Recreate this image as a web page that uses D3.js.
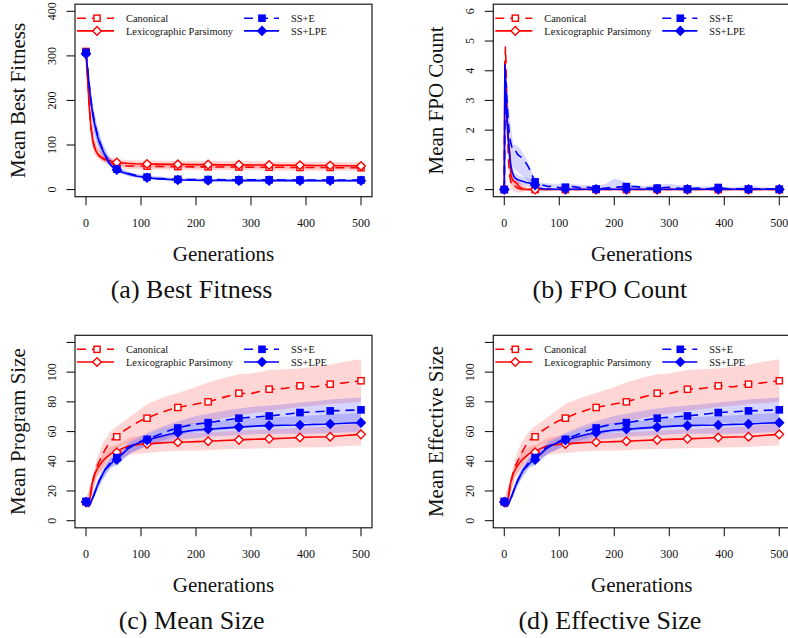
<!DOCTYPE html>
<html><head><meta charset="utf-8">
<script src="https://cdn.jsdelivr.net/npm/d3@7"></script>
<style>
body{margin:0;background:#fff}
svg{display:block}
text{font-family:"Liberation Serif","Times New Roman",serif;fill:#111}
</style>
</head><body>
<svg id="fig" width="788" height="638"></svg>
<script>
// ---------- shared ----------
const seriesNames = ["Canonical", "Lexicographic Parsimony", "SS+E", "SS+LPE"];
const markerGens = [0, 56, 111, 167, 222, 278, 333, 389, 444, 500];
const genTicks = [0, 100, 200, 300, 400, 500];

// ---------- (a) best fitness ----------
const fitGens = [0,3,6,9,12,15,18,21,25,30,35,40,45,50,56,65,75,90,111,130,150,167,195,222,250,278,305,333,360,389,415,444,470,500];
const fitCanonical = [310,250,185,140,114,97,87,80,74,70,66,63,60,57,54,53.5,53,53,52.5,52,51.5,51.5,51,51,50.5,50.5,50,50,50,49.5,49.5,49.5,49,49];
const fitLex = [305,245,182,138,113,96,87,80,75,71,68,66,64,62,60.8,60,59,58,57.5,57,56.5,56.5,56,56,55.5,55.5,55,55,54.5,54.5,54,54,53.5,53];
const fitSSE = [308,272,235,200,175,155,138,123,107,91,78,66,57,50,46,41,37,32,28,25.5,24,23,22.5,22.5,22,22,22,22,21.5,21.5,21.5,21.5,21.5,21.5];
const fitSSLPE = [305,268,230,196,171,151,134,119,104,89,76,64,55,48.5,44.5,39.5,35.5,30.5,26.5,24,22.5,21.5,21,20.5,20.5,20,20,20,20,20,19.8,19.8,19.7,19.7];
const fitBandGens = [0,5,10,15,20,30,40,56,80,111,167,222,278,333,389,444,500];
const fitCanonicalLo = [300,190,105,82,72,62,56,48,46,45,44.5,44,43.5,43,42.5,42.5,42];
const fitCanonicalHi = [320,250,160,115,95,80,73,62,60,59,58.5,58,57.5,57,56.5,56.5,56];
const fitLexLo = [298,188,108,84,74,64,59,53,50,49,48.5,48.5,48,47.5,47,47,46.5];
const fitLexHi = [318,248,163,117,98,82,75,68,66,65,64.5,64,64,63,62.5,62,61.5];
const fitSSELo = [298,225,170,130,105,78,57,40,30,25,20,19.5,19,19,18.5,18.5,18];
const fitSSEHi = [318,265,215,175,145,105,78,52,38,32,26,25,25,24.5,24.5,24,24];
const fitSSLPELo = [295,220,165,125,100,75,55,39,29,23.5,19,18,17.5,17.5,17,17,17];
const fitSSLPEHi = [315,260,210,170,140,100,75,51,37,29.5,25,24,23.5,23,23,23,22.5];
const fitTicks = [0,100,200,300,400];
const fitTickLabels = ["0","100","200","300","400"];

// ---------- (b) FPO count ----------
const fpoGens = [0,1,2,3,4,5,6,7,8,10,12,14,16,18,20,23,26,30,35,40,45,50,56,62,70,80,90,100,111,125,140,155,167,185,200,222,240,260,278,300,320,333,350,370,389,410,430,444,470,500];
const fpoCanonical = [0,3.6,4.8,4.3,3.4,2.6,1.9,1.3,0.9,0.45,0.25,0.15,0.1,0.08,0.12,0.06,0.04,0.02,0.01,0,0,0,0,0,0,0,0,0,0,0,0,0,0,0,0,0,0,0,0,0,0,0,0,0,0,0,0,0,0,0];
const fpoLex = [0,4.3,3.8,3.3,2.8,2.4,2.1,1.8,1.6,1.2,0.5,0.38,0.3,0.27,0.25,0.2,0.12,0.05,0.02,0,0,0,0,0,0,0,0,0,0,0,0,0,0,0,0,0,0,0,0,0,0,0,0,0,0,0,0,0,0,0];
const fpoSSE = [0,2.4,3.4,3.63,3.35,3.0,2.7,2.4,2.1,1.75,1.55,1.42,1.44,1.4,1.32,1.22,1.15,1.1,1.0,0.88,0.72,0.5,0.26,0.2,0.15,0.1,0.12,0.06,0.08,0.1,0.06,0.08,0.02,0.05,0.08,0.1,0.1,0.05,0.05,0.08,0.04,0.02,0.05,0.03,0.07,0.02,0.03,0.02,0.03,0.01];
const fpoSSLPE = [0,4.2,3.6,3.1,2.7,2.4,2.0,1.7,1.5,1.1,0.8,0.62,0.5,0.43,0.38,0.35,0.32,0.3,0.27,0.24,0.22,0.2,0.15,0.05,0.03,0.02,0.01,0.01,0.01,0.01,0.01,0.01,0.01,0.01,0.01,0.01,0.01,0.01,0.01,0.01,0.01,0.01,0.01,0.01,0.01,0.01,0.01,0.01,0.01,0.01];
const fpoBandGens = [0,1,2,3,5,8,12,16,20,25,30,40,50,56,62,70,90,111,140,167,185,200,215,230,250,278,300,333,389,420,444,470,500];
const fpoCanonicalLo = [0,3.2,4.5,4.0,2.2,0.5,0,-0.05,-0.1,-0.1,-0.1,-0.05,-0.02,0,0,0,0,0,0,0,0,0,0,0,0,0,0,0,0,0,0,0,0];
const fpoCanonicalHi = [0,4.0,5.0,4.6,3.0,1.3,0.55,0.35,0.3,0.3,0.22,0.1,0.05,0.02,0,0,0,0,0,0,0,0,0,0,0,0,0,0,0,0,0,0,0];
const fpoLexLo = [0,4.1,3.6,3.0,1.9,1.2,0.2,0.1,0.05,0,-0.05,-0.05,-0.02,0,0,0,0,0,0,0,0,0,0,0,0,0,0,0,0,0,0,0,0];
const fpoLexHi = [0,4.5,4.0,3.5,2.8,2.0,0.9,0.5,0.42,0.32,0.15,0.05,0.02,0,0,0,0,0,0,0,0,0,0,0,0,0,0,0,0,0,0,0,0];
const fpoSSELo = [0,1.6,2.8,3.1,2.5,1.4,0.95,0.75,0.65,0.58,0.5,0.36,0.12,0.04,-0.02,-0.03,-0.03,-0.03,-0.03,-0.03,-0.03,-0.03,-0.03,-0.03,-0.03,-0.03,-0.03,-0.03,-0.03,-0.03,-0.03,-0.03,-0.03];
const fpoSSEHi = [0,3.3,4.1,4.2,3.6,2.8,2.1,1.55,1.5,1.45,1.35,1.05,0.6,0.38,0.27,0.22,0.2,0.2,0.16,0.12,0.2,0.37,0.3,0.16,0.12,0.15,0.2,0.1,0.1,0.08,0.15,0.08,0.05];
const fpoSSLPELo = [0,4.0,3.3,2.8,2.1,1.1,0.5,0.3,0.22,0.2,0.17,0.12,0.08,0.05,0,-0.01,-0.01,-0.01,-0.01,-0.01,-0.01,-0.01,-0.01,-0.01,-0.01,-0.01,-0.01,-0.01,-0.01,-0.01,-0.01,-0.01,-0.01];
const fpoSSLPEHi = [0,4.4,3.9,3.4,2.9,1.9,1.0,0.7,0.55,0.5,0.45,0.4,0.35,0.25,0.1,0.05,0.03,0.03,0.03,0.03,0.03,0.03,0.03,0.03,0.03,0.03,0.03,0.03,0.03,0.03,0.03,0.03,0.03];
const fpoTicks = [0,1,2,3,4,5,6];
const fpoTickLabels = ["0","1","2","3","4","5","6"];

// ---------- (c) mean program size ----------
const sizeGens = [0,2,4,6,8,10,13,16,20,25,30,35,40,45,50,56,65,75,90,100,111,130,150,167,185,200,222,250,278,300,315,333,360,389,400,415,444,470,500];
const sizeCanonical = [12.7,11,10,12,16,21,27,32,36.5,40.5,44.5,48,51,53.5,55.5,56.5,59.5,62,65.5,67.5,69,72,74.5,76.2,77.5,78.5,80,83,85.8,85.5,87,88.5,89,90.8,90.8,90,91.9,92.8,94.2];
const sizeLex = [12.5,10.5,9.5,12,17,22.9,28,31.5,34.5,37.5,40,42,43.5,45,45.8,46,48.5,50,51,51.5,51.7,52.2,52.6,52.8,53,53.2,53.5,54,54.4,54.7,54.9,55.1,55.5,56,56.2,56.3,56.5,57.3,58.1];
const sizeSSE = [13,11,10,10.2,11.5,13.5,16,19,23,27.5,31,34.5,37,39.3,41,42.5,46,49,52,53.5,54.7,57.5,60.5,62.4,64,65,66,67.5,69,69.6,70,70.5,71.5,72.8,73,73.3,73.9,74.2,74.6];
const sizeSSLPE = [12.5,10.5,9.7,10,11.5,13.5,16,19,23,27.4,31,34.5,36.2,38.2,40,41,44.5,48,51.5,53,54.2,56.2,58,59.2,60.3,61,61.5,62.3,63,63.5,63.8,64,64.2,64.4,64.6,64.8,65.1,65.6,66];
const sizeBandGens = [0,10,20,30,45,56,80,111,140,167,200,222,250,278,300,333,360,389,420,444,470,500];
const sizeCanonicalLo = [11.5,16,29,35,45,48.5,53,58,61,63.5,65.5,67,69,71,72,74,75,76.5,77.5,78.5,79,80];
const sizeCanonicalHi = [14,26,42,52,60,63.5,70,78.5,83,86,90,93,96,98.5,99,101.5,102,102.5,104,105,107,108.6];
const sizeLexLo = [11,19,30,35,40,41,44.5,45.6,46.5,47,47.2,47.4,48,48.3,48.5,48.8,49,49.3,49.5,49.6,50.2,50.6];
const sizeLexHi = [14,27,39,45,50,51,56,57.5,58,58.5,59,59.5,60,60.5,61,61.5,62,62.5,63,63.5,64.5,65.5];
const sizeSSELo = [12,11.5,20,27.5,36,38.5,45,50.5,54,57.5,59.5,60,61,62.5,63,63.5,64.5,66,66,66.3,66.3,66.2];
const sizeSSEHi = [14,15.5,26,34.5,43,46,53.5,59,63.5,67,70.5,72,73.8,75.5,76.5,77.5,78.3,79.5,80.5,81.5,82.3,83];
const sizeSSLPELo = [11,11.5,20,28,35.5,37,45.5,50.5,52,54.5,55.5,56.5,57,57.5,58,58.5,58.5,58.5,58.5,59,59.3,59.5];
const sizeSSLPEHi = [14,15.5,26,34,41.5,44,52.5,58,61.5,64,66,66.5,67.5,68.5,69,69.5,70,70.5,71,71.5,72,72.5];
const sizeTicks = [0,20,40,60,80,100,120];
const sizeTickLabels = ["0","20","40","60","80","100",""];

// ---------- (d) mean effective size ----------
const effGens = [0,2,4,6,8,10,13,16,20,25,30,35,40,45,50,56,65,75,90,100,111,130,150,167,185,200,222,250,278,300,315,333,360,389,400,415,444,470,500];
const effCanonical = [12.7,11,10,12,16,21,27,32,36.5,40.5,44.5,48,51,53.5,55.5,56.5,59.5,62,65.5,67.5,69,72,74.5,76.2,77.5,78.5,80,83,85.8,85.5,87,88.5,89,90.8,90.8,90,91.9,92.8,94.2];
const effLex = [12.5,10.5,9.5,12,17,22.9,28,31.5,34.5,37.5,40,42,43.5,45,45.8,46,48.5,50,51,51.5,51.7,52.2,52.6,52.8,53,53.2,53.5,54,54.4,54.7,54.9,55.1,55.5,56,56.2,56.3,56.5,57.3,58.1];
const effSSE = [13,11,10,10.2,11.5,13.5,16,19,23,27.5,31,34.5,37,39.3,41,42.5,46,49,52,53.5,54.7,57.5,60.5,62.4,64,65,66,67.5,69,69.6,70,70.5,71.5,72.8,73,73.3,73.9,74.2,74.6];
const effSSLPE = [12.5,10.5,9.7,10,11.5,13.5,16,19,23,27.4,31,34.5,36.2,38.2,40,41,44.5,48,51.5,53,54.2,56.2,58,59.2,60.3,61,61.5,62.3,63,63.5,63.8,64,64.2,64.4,64.6,64.8,65.1,65.6,66];
const effBandGens = [0,10,20,30,45,56,80,111,140,167,200,222,250,278,300,333,360,389,420,444,470,500];
const effCanonicalLo = [11.5,16,29,35,45,48.5,53,58,61,63.5,65.5,67,69,71,72,74,75,76.5,77.5,78.5,79,80];
const effCanonicalHi = [14,26,42,52,60,63.5,70,78.5,83,86,90,93,96,98.5,99,101.5,102,102.5,104,105,107,108.6];
const effLexLo = [11,19,30,35,40,41,44.5,45.6,46.5,47,47.2,47.4,48,48.3,48.5,48.8,49,49.3,49.5,49.6,50.2,50.6];
const effLexHi = [14,27,39,45,50,51,56,57.5,58,58.5,59,59.5,60,60.5,61,61.5,62,62.5,63,63.5,64.5,65.5];
const effSSELo = [12,11.5,20,27.5,36,38.5,45,50.5,54,57.5,59.5,60,61,62.5,63,63.5,64.5,66,66,66.3,66.3,66.2];
const effSSEHi = [14,15.5,26,34.5,43,46,53.5,59,63.5,67,70.5,72,73.8,75.5,76.5,77.5,78.3,79.5,80.5,81.5,82.3,83];
const effSSLPELo = [11,11.5,20,28,35.5,37,45.5,50.5,52,54.5,55.5,56.5,57,57.5,58,58.5,58.5,58.5,58.5,59,59.3,59.5];
const effSSLPEHi = [14,15.5,26,34,41.5,44,52.5,58,61.5,64,66,66.5,67.5,68.5,69,69.5,70,70.5,71,71.5,72,72.5];

// ---------- styling ----------
const RED = "#ff0000", BLUE = "#0000ff";
const styles = [
  {color: RED,  dash: "9,6", shape: "square",  filled: false, band: "rgba(255,0,0,0.16)"},
  {color: RED,  dash: null,  shape: "diamond", filled: false, band: "rgba(255,0,0,0.16)"},
  {color: BLUE, dash: "9,6", shape: "square",  filled: true,  band: "rgba(0,0,255,0.16)"},
  {color: BLUE, dash: null,  shape: "diamond", filled: true,  band: "rgba(0,0,255,0.16)"}
];

const BOX_W = 297, BOX_H = 192.5;
const COL_X = [75, 493.3], ROW_Y = [4.2, 335.3];

const panels = [
  {col:0,row:0,id:"a",ylab:"Mean Best Fitness",caption:"(a) Best Fitness",ymax:400,
   ticks:fitTicks,tickLabels:fitTickLabels,gens:fitGens,
   series:[fitCanonical,fitLex,fitSSE,fitSSLPE],bandGens:fitBandGens,
   bands:[[fitCanonicalLo,fitCanonicalHi],[fitLexLo,fitLexHi],[fitSSELo,fitSSEHi],[fitSSLPELo,fitSSLPEHi]]},
  {col:1,row:0,id:"b",ylab:"Mean FPO Count",caption:"(b) FPO Count",ymax:6,
   ticks:fpoTicks,tickLabels:fpoTickLabels,gens:fpoGens,
   series:[fpoCanonical,fpoLex,fpoSSE,fpoSSLPE],bandGens:fpoBandGens,
   bands:[[fpoCanonicalLo,fpoCanonicalHi],[fpoLexLo,fpoLexHi],[fpoSSELo,fpoSSEHi],[fpoSSLPELo,fpoSSLPEHi]]},
  {col:0,row:1,id:"c",ylab:"Mean Program Size",caption:"(c) Mean Size",ymax:120,
   ticks:sizeTicks,tickLabels:sizeTickLabels,gens:sizeGens,
   series:[sizeCanonical,sizeLex,sizeSSE,sizeSSLPE],bandGens:sizeBandGens,
   bands:[[sizeCanonicalLo,sizeCanonicalHi],[sizeLexLo,sizeLexHi],[sizeSSELo,sizeSSEHi],[sizeSSLPELo,sizeSSLPEHi]]},
  {col:1,row:1,id:"d",ylab:"Mean Effective Size",caption:"(d) Effective Size",ymax:120,
   ticks:sizeTicks,tickLabels:sizeTickLabels,gens:effGens,
   series:[effCanonical,effLex,effSSE,effSSLPE],bandGens:effBandGens,
   bands:[[effCanonicalLo,effCanonicalHi],[effLexLo,effLexHi],[effSSELo,effSSEHi],[effSSLPELo,effSSLPEHi]]}
];

const svg = d3.select("#fig");
const defs = svg.append("defs");

function marker(g, shape, filled, color, x, y) {
  if (shape === "square") {
    g.append("rect").attr("x", x - 3.1).attr("y", y - 3.1).attr("width", 6.2).attr("height", 6.2)
      .attr("fill", filled ? color : "#fff").attr("stroke", color).attr("stroke-width", 1.4);
  } else {
    const r = 4.3;
    g.append("path").attr("d", `M${x},${y - r}L${x + r},${y}L${x},${y + r}L${x - r},${y}Z`)
      .attr("fill", filled ? color : "#fff").attr("stroke", color).attr("stroke-width", 1.4);
  }
}

panels.forEach(p => {
  const left = COL_X[p.col], top = ROW_Y[p.row];
  const right = left + BOX_W, bottom = top + BOX_H;
  // R-style 4% padding around the data range
  const x = d3.scaleLinear().domain([-20, 520]).range([left, right]);
  const pad = p.ymax * 0.04;
  const y = d3.scaleLinear().domain([-pad, p.ymax + pad]).range([bottom, top]);

  const g = svg.append("g");
  const clipId = "clip-" + p.id;
  defs.append("clipPath").attr("id", clipId)
    .append("rect").attr("x", left).attr("y", top).attr("width", BOX_W).attr("height", BOX_H);
  const plot = g.append("g").attr("clip-path", `url(#${clipId})`);

  // confidence bands
  p.bands.forEach((b, i) => {
    const area = d3.area()
      .x((d, k) => x(p.bandGens[k]))
      .y0((d, k) => y(b[0][k]))
      .y1((d, k) => y(b[1][k]));
    plot.append("path").attr("d", area(p.bandGens)).attr("fill", styles[i].band).attr("stroke", "none");
  });

  // mean lines
  p.series.forEach((s, i) => {
    const line = d3.line().x((d, k) => x(p.gens[k])).y(d => y(d));
    plot.append("path").attr("d", line(s)).attr("fill", "none")
      .attr("stroke", styles[i].color).attr("stroke-width", 1.6)
      .attr("stroke-dasharray", styles[i].dash).attr("stroke-linejoin", "round");
  });

  // markers
  p.series.forEach((s, i) => {
    markerGens.forEach(mg => {
      const k = p.gens.indexOf(mg);
      marker(plot, styles[i].shape, styles[i].filled, styles[i].color, x(mg), y(s[k]));
    });
  });

  // frame
  g.append("rect").attr("x", left).attr("y", top).attr("width", BOX_W).attr("height", BOX_H)
    .attr("fill", "none").attr("stroke", "#1a1a1a").attr("stroke-width", 1.2);

  // x axis
  const TL = 8.5;
  genTicks.forEach(t => {
    g.append("line").attr("x1", x(t)).attr("x2", x(t)).attr("y1", bottom).attr("y2", bottom + TL)
      .attr("stroke", "#1a1a1a").attr("stroke-width", 1.1);
    g.append("text").attr("x", x(t)).attr("y", bottom + 30).attr("text-anchor", "middle")
      .attr("font-size", 12).text(t);
  });
  // y axis
  p.ticks.forEach((t, k) => {
    g.append("line").attr("x1", left - TL).attr("x2", left).attr("y1", y(t)).attr("y2", y(t))
      .attr("stroke", "#1a1a1a").attr("stroke-width", 1.1);
    if (p.tickLabels[k]) {
      g.append("text").attr("transform", `translate(${left - 23.3},${y(t)}) rotate(-90)`)
        .attr("text-anchor", "middle").attr("dy", "0.35em").attr("font-size", 12).text(p.tickLabels[k]);
    }
  });

  // titles
  g.append("text").attr("x", (left + right) / 2).attr("y", bottom + 64).attr("text-anchor", "middle")
    .attr("font-size", 21).text("Generations");
  g.append("text").attr("transform", `translate(${left - 57.7},${(top + bottom) / 2}) rotate(-90)`)
    .attr("text-anchor", "middle").attr("dy", "0.35em").attr("font-size", 21).text(p.ylab);
  g.append("text").attr("x", left + 116.6).attr("y", bottom + 101).attr("text-anchor", "middle")
    .attr("font-size", 26).text(p.caption);

  // legend
  const rows = [top + 14, top + 26.7];
  const cols = [{l: 2, r: 39, m: 22, t: 51}, {l: 169, r: 204, m: 187, t: 216}];
  seriesNames.forEach((name, i) => {
    const c = cols[Math.floor(i / 2)], ry = rows[i % 2];
    g.append("line").attr("x1", left + c.l).attr("x2", left + c.r).attr("y1", ry).attr("y2", ry)
      .attr("stroke", styles[i].color).attr("stroke-width", 1.6).attr("stroke-dasharray", styles[i].dash);
    marker(g, styles[i].shape, styles[i].filled, styles[i].color, left + c.m, ry);
    g.append("text").attr("x", left + c.t).attr("y", ry).attr("dy", "0.35em")
      .attr("font-size", 10.4).text(name);
  });
});
</script>
</body></html>
